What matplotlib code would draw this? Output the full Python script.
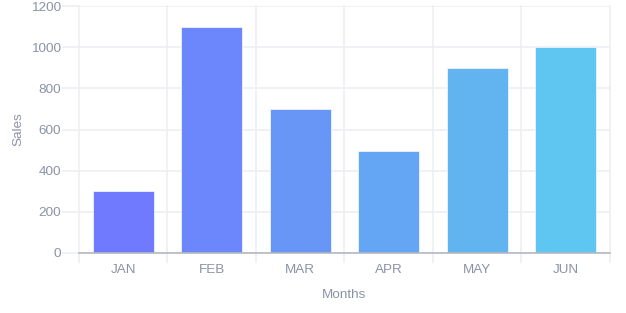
import numpy as np
import matplotlib.pyplot as plt

# Dados do gráfico
months = ['JAN', 'FEB', 'MAR', 'APR', 'MAY', 'JUN']
sales = [300, 1100, 700, 495, 900, 1000]
bar_colors = ['#6f7aff', '#6c87fc', '#6896f6', '#64a5f4', '#62b4f1', '#5fc6f1']

TEXT = '#8a93a6'
GRID = '#eeeff3'

plt.rcParams['font.family'] = ['Liberation Sans', 'DejaVu Sans']

fig = plt.figure(figsize=(6.26, 3.13), dpi=100)
ax = fig.add_axes([0.1262, 0.1917, 0.8482, 0.7891])

x = np.arange(len(months))
ax.bar(x, sales, width=0.69, color=bar_colors, edgecolor='#eef2ff', linewidth=0.6, zorder=3)

ax.set_xlim(-0.5, len(months) - 0.5)
ax.set_ylim(0, 1200)
ax.set_yticks(np.arange(0, 1201, 200))

# linhas de grade verticais nas divisões das categorias
for b in np.arange(-0.5, len(months), 1.0):
    ax.plot([b, b], [-0.037, 1], transform=ax.get_xaxis_transform(), color=GRID,
            linewidth=1.2, clip_on=False, zorder=1)
ax.yaxis.grid(True, color=GRID, linewidth=1.2, zorder=0)

ax.set_xticks(x)
ax.set_xticklabels(months)
ax.tick_params(axis='x', length=0, pad=8, labelsize=9.7, labelcolor=TEXT)
ax.tick_params(axis='y', length=12, width=1.2, color=GRID, pad=1, labelsize=9.7, labelcolor=TEXT)

for s in ['top', 'right', 'left']:
    ax.spines[s].set_visible(False)
ax.spines['bottom'].set_color('#b4b8c2')
ax.spines['bottom'].set_linewidth(1.2)
ax.spines['bottom'].set_zorder(4)

ax.set_xlabel('Months', color=TEXT, fontsize=9.7)
ax.set_ylabel('Sales', color=TEXT, fontsize=9.7)
ax.xaxis.set_label_coords(0.5, -0.17)
ax.yaxis.set_label_coords(-0.115, 0.5)
ax.xaxis.label.set_va('center')
ax.yaxis.label.set_va('center')

fig.savefig('out.png', dpi=100)
